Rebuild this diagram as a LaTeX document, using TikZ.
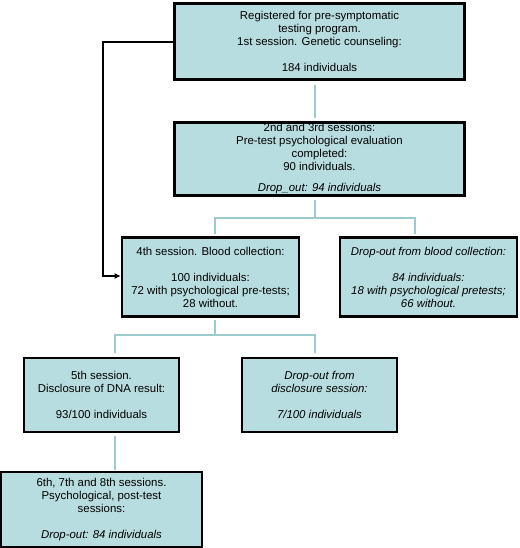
\documentclass[tikz,border=0pt]{standalone}
\usepackage{fontspec}
\setmainfont{Liberation Sans}
\usetikzlibrary{arrows.meta}
\definecolor{boxfill}{HTML}{B8DDE1}
\definecolor{connc}{HTML}{9CCACE}
\tikzset{
  box/.style={draw=black, line width=2.6pt, fill=boxfill, align=center, inner sep=0pt,
    font=\fontsize{11.4}{13}\selectfont},
  ibox/.style={box, font=\fontsize{11.4}{13}\selectfont\itshape},
  conn/.style={draw=connc, line width=1.8pt},
  back/.style={draw=black, line width=2.8pt, -{Latex[length=6pt,width=6pt]}}
}
\begin{document}
\begin{tikzpicture}[x=1pt,y=-1pt]
\useasboundingbox (0,0) rectangle (519,548);
\node[box, minimum width=290pt, minimum height=76pt] (b1) at (319.5,41.5)
  {Registered for pre-symptomatic\\testing program.\\1st session. Genetic counseling:\\ \\184 individuals};
\node[box, minimum width=290pt, minimum height=73pt] (b2) at (319.5,159)
  {2nd and 3rd sessions:\\Pre-test psychological evaluation\\completed:\\90 individuals.\\[8pt]\textit{Drop\_out: 94 individuals}};
\node[box, minimum width=177pt, minimum height=79pt] (b3) at (210.5,277)
  {4th session. Blood collection:\\ \\100 individuals:\\72 with psychological pre-tests;\\28 without.};
\node[ibox, minimum width=177pt, minimum height=79pt] (b4) at (428.5,277)
  {Drop-out from blood collection:\\ \\84 individuals:\\18 with psychological pretests;\\66 without.};
\node[box, minimum width=155pt, minimum height=74pt] (b5) at (101.5,395)
  {5th session.\\Disclosure of DNA result:\\ \\93/100 individuals};
\node[ibox, minimum width=155pt, minimum height=74pt] (b6) at (319.5,395)
  {Drop-out from\\disclosure session:\\ \\7/100 individuals};
\node[box, minimum width=201pt, minimum height=75pt] (b7) at (101.5,509.5)
  {6th, 7th and 8th sessions.\\Psychological, post-test\\sessions:\\ \\\textit{Drop-out: 84 individuals}};
% connectors
\coordinate (j1) at (315,218);
\draw[conn, shorten <=4pt, shorten >=3pt] (b1.south -| j1) -- (b2.north -| j1);
\coordinate (j1l) at (215,218);
\coordinate (j1r) at (415,218);
\coordinate (e3) at (215,234);
\coordinate (e4) at (415,234);
\draw[conn, shorten <=3pt] (b2.south -| j1) -- (j1);
\draw[conn] (e3) -- (j1l) -- (j1r) -- (e4);
\coordinate (j2) at (215,335);
\coordinate (j2l) at (115,335);
\coordinate (j2r) at (315,335);
\coordinate (e5) at (115,353);
\coordinate (e6) at (315,353);
\draw[conn, shorten <=2pt] (b3.south -| j2) -- (j2);
\draw[conn] (e5) -- (j2l) -- (j2r) -- (e6);
\coordinate (t7) at (115,470);
\draw[conn, shorten <=3pt] (b5.south -| t7) -- (t7);
% back arrow
\coordinate (k1) at (103,42);
\coordinate (k2) at (103,276);
\draw[back] (b1.west |- k1) -- (k1) -- (k2) -- (b3.west |- k2);
\end{tikzpicture}
\end{document}
